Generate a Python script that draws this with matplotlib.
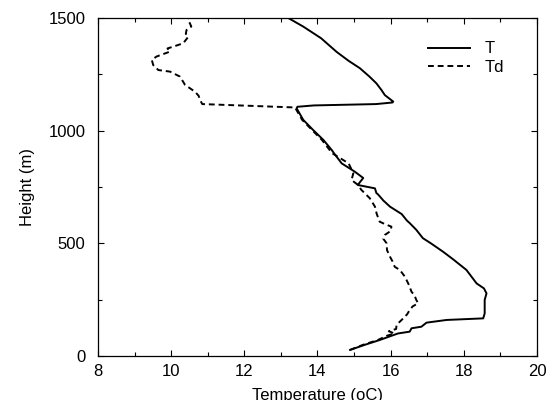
import matplotlib.pyplot as plt
from matplotlib.ticker import MultipleLocator

plt.rcParams['font.family'] = ['Liberation Sans', 'DejaVu Sans']

# temperatura (T) - sicaklik profili
t_height = [27, 50, 71, 100, 108, 123, 130, 148, 160, 167, 189, 249, 278, 300, 322, 382,
            430, 463, 500, 523, 560, 590, 600, 630, 663, 690, 718, 723, 744,
            759, 790, 818, 855, 900, 914, 959, 1003, 1048, 1099, 1106, 1112, 1118, 1125, 1129,
            1158, 1180, 1210, 1240, 1277, 1310, 1350, 1410, 1462, 1500]
t_temp = [14.89, 15.3, 15.7, 16.2, 16.52, 16.57, 16.84, 16.98, 17.53, 18.53, 18.57, 18.57,
          18.62, 18.55, 18.35, 18.07, 17.7, 17.43, 17.1, 16.88, 16.7, 16.52,
          16.45, 16.3, 15.98, 15.8, 15.65, 15.61, 15.57, 15.1, 15.25, 15.02, 14.66, 14.45, 14.39,
          14.16, 13.88, 13.61, 13.43, 13.45, 13.9, 15.6, 16.05, 16.07, 15.84, 15.75, 15.61, 15.42,
          15.16, 14.85, 14.52, 14.1, 13.61, 13.2]

# ciy noktasi (Td)
td_height = [27, 50, 71, 90, 100, 110, 120, 138, 160, 185, 204, 220, 234, 249, 270, 285,
             315, 352, 382, 396, 420, 441, 470, 500, 520, 537, 555, 574, 585, 596, 630,
             663, 700, 737, 760, 781, 811, 855, 900, 959, 1003, 1048, 1099, 1103, 1118, 1136,
             1155, 1173, 1203, 1240, 1262, 1269, 1291, 1314, 1329, 1351, 1365, 1373, 1388, 1417,
             1430, 1447, 1462, 1477, 1491, 1500]
td_temp = [14.89, 15.25, 15.65, 15.9, 16.1, 15.95, 16.15, 16.16, 16.3, 16.45, 16.52, 16.6,
           16.75, 16.7, 16.65, 16.57, 16.5, 16.39, 16.25, 16.11, 16.05, 15.98, 15.9, 15.89,
           15.8, 15.84, 16.0, 16.02, 15.85, 15.7, 15.62, 15.57, 15.43, 15.2, 15.1, 14.93, 14.98,
           14.85, 14.4, 14.12, 13.85, 13.58, 13.4, 13.38, 10.85, 10.79, 10.75, 10.65, 10.38,
           10.24, 9.97, 9.65, 9.51, 9.47, 9.6, 9.97, 9.9, 10.06, 10.33, 10.47, 10.4, 10.42,
           10.55, 10.51, 10.45, 10.47]

fig = plt.figure(figsize=(5.46, 4.0), dpi=100)
ax = fig.add_axes([0.1795, 0.11, 0.804, 0.845])

ax.plot(t_temp, t_height, color="black", linewidth=1.4, label="T")
ax.plot(td_temp, td_height, color="black", linewidth=1.4, linestyle=(0, (3, 2)), label="Td")

ax.set_xlim(8, 20)
ax.set_ylim(0, 1500)
ax.xaxis.set_major_locator(MultipleLocator(2))
ax.xaxis.set_minor_locator(MultipleLocator(1))
ax.yaxis.set_major_locator(MultipleLocator(500))
ax.yaxis.set_minor_locator(MultipleLocator(250))
ax.tick_params(which="both", direction="in", top=True, right=True, labelsize=12, width=0.8)
ax.tick_params(which="major", length=4)
ax.tick_params(axis="y", which="major", pad=9)
ax.tick_params(axis="x", which="major", pad=6)
ax.tick_params(which="minor", length=3)
for s in ax.spines.values():
    s.set_linewidth(0.9)

ax.set_xlabel("Temperature (oC)", fontsize=12, labelpad=6)
ax.set_ylabel("Height (m)", fontsize=12, labelpad=10)

ax.legend(loc="upper right", frameon=False, fontsize=12, handlelength=2.5,
          handletextpad=0.9, labelspacing=0.2, bbox_to_anchor=(0.96, 0.975))

plt.savefig("out.png", dpi=100)
